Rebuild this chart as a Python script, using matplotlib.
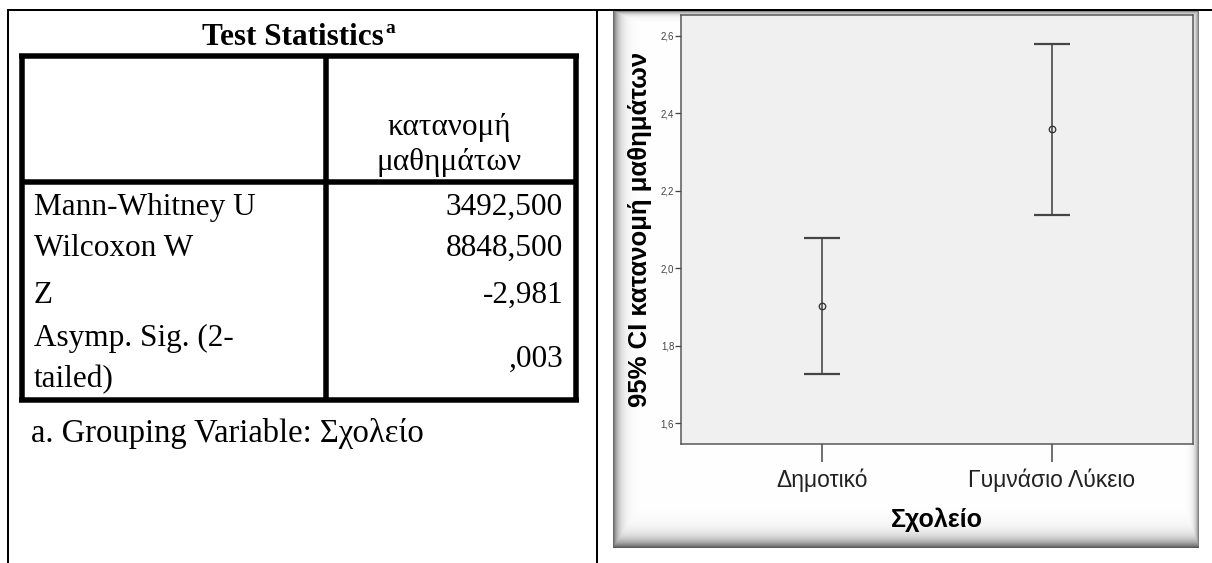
import numpy as np
import matplotlib
matplotlib.use("Agg")
import matplotlib.pyplot as plt

# ---------------- data ----------------
table_title = "Test Statistics"
title_note = "a"
col_header = ["κατανομή", "μαθημάτων"]
row_labels = ["Mann-Whitney U", "Wilcoxon W", "Z", "Asymp. Sig. (2-\ntailed)"]
row_values = ["3492,500", "8848,500", "-2,981", ",003"]
footnote = "a. Grouping Variable: Σχολείο"

categories = ["Δημοτικό", "Γυμνάσιο Λύκειο"]
means = [1.902, 2.358]
ci_lower = [1.726, 2.137]
ci_upper = [2.077, 2.578]
y_ticks = [1.6, 1.8, 2.0, 2.2, 2.4, 2.6]
y_ticklabels = ["1,6", "1,8", "2,0", "2,2", "2,4", "2,6"]
y_label = "95% CI κατανομή μαθημάτων"
x_label = "Σχολείο"

# ---------------- figure ----------------
W, H = 1212, 563
fig = plt.figure(figsize=(W / 100, H / 100), dpi=100)
PX = 72 / 100  # points per pixel

bg = fig.add_axes([0, 0, 1, 1])
bg.set_xlim(0, W)
bg.set_ylim(H, 0)
bg.axis("off")

serif = "Liberation Serif"
sans = "Liberation Sans"

# document table lines
bg.plot([8, W], [10, 10], color="black", lw=2 * PX, solid_capstyle="butt")
bg.plot([8, 8], [9, H], color="black", lw=2 * PX, solid_capstyle="butt")
bg.plot([597, 597], [9, H], color="black", lw=2 * PX, solid_capstyle="butt")

# inner SPSS table
thick = 5.5 * PX
L, R, T, B, C, HB = 22, 575.5, 55.5, 399.5, 326, 182
for xs, ys in [([L - 3, R + 3], [T, T]), ([L - 3, R + 3], [B, B]),
               ([L, L], [T, B]), ([R, R], [T, B]), ([C, C], [T, B]),
               ([L, R], [HB, HB])]:
    bg.plot(xs, ys, color="black", lw=thick, solid_capstyle="butt")

fs = 22.5
ttl = bg.text(293, 45, table_title, family=serif, fontsize=fs,
              fontweight="bold", ha="center", va="baseline")
fig.canvas.draw()
bb = ttl.get_window_extent()
x_end = bb.x1  # display pixels (== data x since bg spans figure)
bg.text(x_end + 1, 33, title_note, family=serif, fontsize=14,
        fontweight="bold", ha="left", va="baseline")

bg.text(449, 135, col_header[0], family=serif, fontsize=fs, ha="center", va="baseline")
bg.text(449, 170, col_header[1], family=serif, fontsize=fs, ha="center", va="baseline")

label_baselines = [215, 256, 303, 346]
value_baselines = [215, 256, 303, 367]
for lab, val, lb, vb in zip(row_labels, row_values, label_baselines, value_baselines):
    lines = lab.split("\n")
    for k, ln in enumerate(lines):
        bg.text(34, lb + 41 * k, ln, family=serif, fontsize=fs, ha="left", va="baseline")
    bg.text(563, vb, val, family=serif, fontsize=fs, ha="right", va="baseline")

bg.text(31, 442, footnote, family=serif, fontsize=23.5, ha="left", va="baseline")

# chart frame with soft inner shadow
fx0, fx1, fy0, fy1 = 613, 1199, 11, 548
fw, fh = fx1 - fx0, fy1 - fy0
xx = np.arange(fw)[None, :]
yy = np.arange(fh)[:, None]
shade = np.maximum.reduce([
    0.58 * np.exp(-xx / 5.5) * np.ones_like(yy),
    0.45 * np.exp(-yy / 2.5) * np.ones_like(xx),
    0.65 * np.exp(-(fh - 1 - yy) / 8.0) * np.ones_like(xx),
    0.50 * np.exp(-(fw - 1 - xx) / 3.0) * np.ones_like(yy),
])
g = 1 - shade
img = np.dstack([g, g, g])
bg.imshow(img, extent=(fx0, fx1, fy1, fy0), origin="upper", interpolation="bilinear",
          aspect="auto", zorder=1)
bg.set_xlim(0, W)
bg.set_ylim(H, 0)

# ---------------- chart ----------------
px0, px1, py0, py1 = 681, 1193, 15, 444
ax = fig.add_axes([px0 / W, 1 - py1 / H, (px1 - px0) / W, (py1 - py0) / H])
ax.set_facecolor("#F0F0F0")
for s in ax.spines.values():
    s.set_color("#555555")
    s.set_linewidth(1.5 * PX)

x = np.arange(len(categories))
means_a = np.array(means)
yerr = np.vstack([means_a - np.array(ci_lower), np.array(ci_upper) - means_a])
eb = ax.errorbar(x, means_a, yerr=yerr, fmt="none", ecolor="#444444",
                 elinewidth=1.6 * PX, capsize=18 * PX, capthick=2.2 * PX)
for cl in eb[1]:
    cl.set_color("#6e6e6e")
ax.plot(x, means_a, linestyle="none", marker="o", ms=6.5 * PX, mfc="none",
        mec="#333333", mew=1.3 * PX)

ax.set_ylim(1.5466, 2.6534)
ax.set_xlim(-0.613, 1.613)
ax.set_yticks(y_ticks)
ax.set_yticklabels(y_ticklabels, family=sans, fontsize=7, color="#444444")
ax.set_xticks(x)
ax.set_xticklabels(categories, family=sans, fontsize=16.5, color="#222222")
ax.tick_params(axis="y", direction="out", length=6 * PX, width=1.3 * PX,
               color="#444444", pad=0.5)
ax.tick_params(axis="x", direction="out", length=18 * PX, width=1.5 * PX,
               color="#444444", pad=7 * PX)

ax.set_ylabel(y_label, family=sans, fontsize=18.5, fontweight="bold", va="center")
ax.yaxis.set_label_coords((640 - px0) / (px1 - px0), 0.5)
ax.set_xlabel(x_label, family=sans, fontsize=18, fontweight="bold", va="center")
ax.xaxis.set_label_coords((937 - px0) / (px1 - px0), -(520 - py1) / (py1 - py0))

fig.savefig("out.png", dpi=100)
